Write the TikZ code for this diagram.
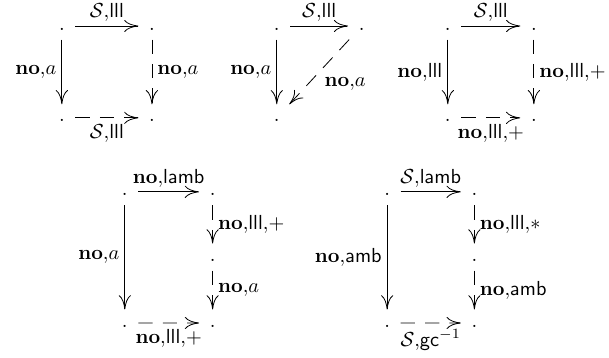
\documentclass[tikz,border=0pt]{standalone}
\usepackage{tikz}
\usetikzlibrary{arrows.meta, positioning}
\tikzstyle{pt} = [inner sep=0pt, minimum size=13pt, text height=0pt, text depth=0pt]
\tikzstyle{arrow} = [-{Computer Modern Rightarrow[length=7pt, width=6pt]}]
\tikzstyle{dasharrow} = [arrow, dash pattern=on 7pt off 5pt]
\newcommand{\dotpt}{\raisebox{-4pt}{$\cdot$}}

\begin{document}
\begin{tikzpicture}[on grid, every node/.style={inner sep=2.5pt}]
  \useasboundingbox (0,0) rectangle (10.54,-6.18);
  % top row
  \node[pt] (a1) at (1.07,-0.45) {\dotpt};
  \node[pt, right=1.56cm of a1] (b1) {\dotpt};
  \node[pt, below=1.59cm of a1] (c1) {\dotpt};
  \node[pt, below=1.59cm of b1] (d1) {\dotpt};

  \node[pt] (a2) at (4.79,-0.45) {\dotpt};
  \node[pt, right=1.47cm of a2] (b2) {\dotpt};
  \node[pt, below=1.59cm of a2] (c2) {\dotpt};

  \node[pt] (a3) at (7.75,-0.45) {\dotpt};
  \node[pt, right=1.49cm of a3] (b3) {\dotpt};
  \node[pt, below=1.59cm of a3] (c3) {\dotpt};
  \node[pt, below=1.59cm of b3] (d3) {\dotpt};

  \draw[arrow] (a1) -- node[above, inner sep=2pt] {$\mathcal{S}{,}\mathsf{lll}$} (b1);
  \draw[arrow] (a1) -- node[left] {$\mathbf{no}{,}a$} (c1);
  \draw[dasharrow] (b1) -- node[right] {$\mathbf{no}{,}a$} (d1);
  \draw[dasharrow] (c1) -- node[below, inner sep=3pt] {$\mathcal{S}{,}\mathsf{lll}$} (d1);

  \draw[arrow] (a2) -- node[above, inner sep=2pt] {$\mathcal{S}{,}\mathsf{lll}$} (b2);
  \draw[arrow] (a2) -- node[left] {$\mathbf{no}{,}a$} (c2);
  \draw[dasharrow] (b2) -- node[below right] {$\mathbf{no}{,}a$} (c2);

  \draw[arrow] (a3) -- node[above, inner sep=2pt] {$\mathcal{S}{,}\mathsf{lll}$} (b3);
  \draw[arrow] (a3) -- node[left] {$\mathbf{no}{,}\mathsf{lll}$} (c3);
  \draw[dasharrow] (b3) -- node[right] {$\mathbf{no}{,}\mathsf{lll}{,}+$} (d3);
  \draw[dasharrow] (c3) -- node[below, inner sep=3pt] {$\mathbf{no}{,}\mathsf{lll}{,}+$} (d3);

  % bottom row
  \node[pt] (a4) at (2.16,-3.32) {\dotpt};
  \node[pt, right=1.52cm of a4] (b4) {\dotpt};
  \node[pt, below=1.13cm of b4] (m4) {\dotpt};
  \node[pt, below=1.14cm of m4] (d4) {\dotpt};
  \node[pt, below=2.27cm of a4] (c4) {\dotpt};

  \node[pt] (a5) at (6.70,-3.32) {\dotpt};
  \node[pt, right=1.51cm of a5] (b5) {\dotpt};
  \node[pt, below=1.13cm of b5] (m5) {\dotpt};
  \node[pt, below=1.14cm of m5] (d5) {\dotpt};
  \node[pt, below=2.27cm of a5] (c5) {\dotpt};

  \draw[arrow] (a4) -- node[above, inner sep=2pt] {$\mathbf{no}{,}\mathsf{lamb}$} (b4);
  \draw[arrow] (a4) -- node[left] {$\mathbf{no}{,}a$} (c4);
  \draw[dasharrow] (b4) -- node[right] {$\mathbf{no}{,}\mathsf{lll}{,}+$} (m4);
  \draw[dasharrow] (m4) -- node[right] {$\mathbf{no}{,}a$} (d4);
  \draw[dasharrow] (c4) -- node[below, inner sep=3pt] {$\mathbf{no}{,}\mathsf{lll}{,}+$} (d4);

  \draw[arrow] (a5) -- node[above, inner sep=2pt] {$\mathcal{S}{,}\mathsf{lamb}$} (b5);
  \draw[arrow] (a5) -- node[left] {$\mathbf{no}{,}\mathsf{amb}$} (c5);
  \draw[dasharrow] (b5) -- node[right] {$\mathbf{no}{,}\mathsf{lll}{,}\ast$} (m5);
  \draw[dasharrow] (m5) -- node[right] {$\mathbf{no}{,}\mathsf{amb}$} (d5);
  \draw[dasharrow] (c5) -- node[below, inner sep=3pt] {$\mathcal{S}{,}\mathsf{gc}^{-1}$} (d5);
\end{tikzpicture}
\end{document}
